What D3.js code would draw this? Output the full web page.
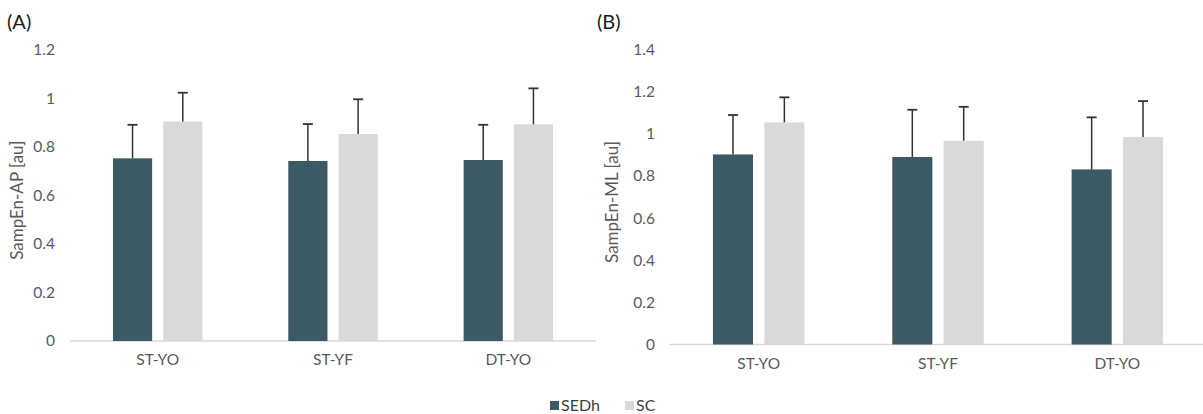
<!DOCTYPE html>
<html>
<head>
<meta charset="utf-8">
<script src="https://cdn.jsdelivr.net/npm/d3@7"></script>
<style>
  html, body { margin: 0; padding: 0; background: #fff; }
  svg { display: block; font-family: Lato, "Open Sans", sans-serif; }
</style>
</head>
<body>
<svg id="chart" width="1203" height="414"></svg>
<script>
// ---- data ----
const categories = ["ST-YO", "ST-YF", "DT-YO"];
const seriesNames = ["SEDh", "SC"];

// Panel A: SampEn-AP
const apSEDh = [0.752, 0.741, 0.745];
const apSC = [0.904, 0.852, 0.892];
const apSEDhErr = [0.138, 0.152, 0.145];
const apSCErr = [0.118, 0.143, 0.148];
const apTicks = [0, 0.2, 0.4, 0.6, 0.8, 1, 1.2];

// Panel B: SampEn-ML
const mlSEDh = [0.902, 0.890, 0.831];
const mlSC = [1.054, 0.967, 0.985];
const mlSEDhErr = [0.187, 0.224, 0.247];
const mlSCErr = [0.119, 0.161, 0.170];
const mlTicks = [0, 0.2, 0.4, 0.6, 0.8, 1, 1.2, 1.4];

const colors = { SEDh: "#3c5a63", SC: "#d9d9d9" };

const svg = d3.select("#chart");

function panel(opts) {
  const { x0, x1, yZero, yTop, maxV, ticks, sedh, sc, sedhErr, scErr, title, label, labelX, titleX, tickX } = opts;
  const g = svg.append("g");

  const x = d3.scaleBand().domain(categories).range([x0, x1]).paddingInner(0.49).paddingOuter(0.245);
  const xs = d3.scaleBand().domain(seriesNames).range([0, x.bandwidth()]).paddingInner(0.22);
  const y = d3.scaleLinear().domain([0, maxV]).range([yZero, yTop]);

  const yAxis = d3.axisLeft(y).tickValues(ticks).tickSize(0).tickPadding(0)
    .tickFormat(d => d3.format("~g")(d));
  const ya = g.append("g").attr("transform", `translate(${tickX},0)`).call(yAxis);
  ya.select(".domain").remove();
  ya.selectAll("text").attr("fill", "#595959").style("font-size", "15.5px")
    .style("font-family", "Lato, 'Open Sans', sans-serif");

  const xa = g.append("g").attr("transform", `translate(0,${yZero})`)
    .call(d3.axisBottom(x).tickSize(0).tickPadding(13));
  xa.select(".domain").attr("stroke", "#d9d9d9").attr("stroke-width", 1.5)
    .attr("d", `M${x0},0H${x1}`);
  xa.selectAll("text").attr("fill", "#595959").style("font-size", "15.5px")
    .style("font-family", "Lato, 'Open Sans', sans-serif");

  const rows = categories.map((c, i) => ({
    cat: c,
    vals: [
      { s: "SEDh", v: sedh[i], e: sedhErr[i] },
      { s: "SC", v: sc[i], e: scErr[i] }
    ]
  }));

  const grp = g.selectAll(".grp").data(rows).join("g")
    .attr("transform", d => `translate(${x(d.cat)},0)`);

  grp.selectAll("rect").data(d => d.vals).join("rect")
    .attr("x", d => xs(d.s))
    .attr("y", d => y(d.v))
    .attr("width", xs.bandwidth())
    .attr("height", d => y(0) - y(d.v))
    .attr("fill", d => colors[d.s]);

  const eb = grp.selectAll(".eb").data(d => d.vals).join("g").attr("class", "eb");
  eb.append("line")
    .attr("x1", d => xs(d.s) + xs.bandwidth() / 2)
    .attr("x2", d => xs(d.s) + xs.bandwidth() / 2)
    .attr("y1", d => y(d.v))
    .attr("y2", d => y(d.v + d.e))
    .attr("stroke", "#333").attr("stroke-width", 1.5);
  eb.append("line")
    .attr("x1", d => xs(d.s) + xs.bandwidth() / 2 - 5)
    .attr("x2", d => xs(d.s) + xs.bandwidth() / 2 + 5)
    .attr("y1", d => y(d.v + d.e))
    .attr("y2", d => y(d.v + d.e))
    .attr("stroke", "#333").attr("stroke-width", 1.8);

  g.append("text")
    .attr("transform", `translate(${titleX},${(yZero + yTop) / 2 + 5}) rotate(-90)`)
    .attr("text-anchor", "middle")
    .attr("fill", "#595959")
    .style("font-size", "17px")
    .text(title);

  g.append("text")
    .attr("x", labelX).attr("y", 29)
    .attr("fill", "#1a1a1a")
    .style("font-size", "20px")
    .text(label);
}

panel({
  x0: 70, x1: 596, yZero: 341, yTop: 49.5, maxV: 1.2, ticks: apTicks,
  sedh: apSEDh, sc: apSC, sedhErr: apSEDhErr, scErr: apSCErr,
  title: "SampEn-AP [au]", label: "(A)", labelX: 7, titleX: 23, tickX: 55
});

panel({
  x0: 669, x1: 1207, yZero: 344.5, yTop: 49.5, maxV: 1.4, ticks: mlTicks,
  sedh: mlSEDh, sc: mlSC, sedhErr: mlSEDhErr, scErr: mlSCErr,
  title: "SampEn-ML [au]", label: "(B)", labelX: 597, titleX: 618, tickX: 655
});

// legend
const legend = svg.append("g");
const legItems = [
  { s: "SEDh", x: 550 },
  { s: "SC", x: 625 }
];
const li = legend.selectAll("g").data(legItems).join("g")
  .attr("transform", d => `translate(${d.x},401)`);
li.append("rect").attr("width", 9).attr("height", 9).attr("fill", d => colors[d.s]);
li.append("text").attr("x", 11).attr("y", 10)
  .attr("fill", "#404040").style("font-size", "16px").text(d => d.s);
</script>
</body>
</html>
